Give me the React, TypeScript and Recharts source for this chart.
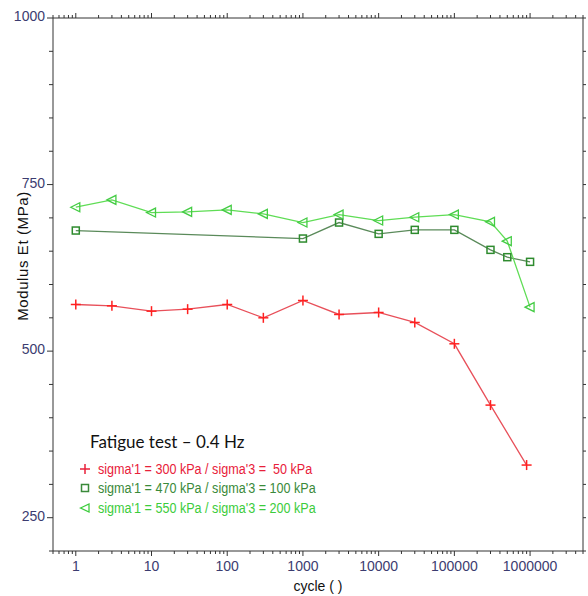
import React from 'react';
import { LineChart, Line, XAxis, YAxis } from 'recharts';

// cycles (x) and modulus Et in MPa (y)
const redCycles = [1, 3, 10, 30, 100, 300, 1000, 3000, 10000, 30000, 100000, 300000, 900000];
const redModulus = [570, 568, 560, 563, 570, 550, 576, 555, 558, 543, 511, 419, 329];

const darkCycles = [1, 1000, 3000, 10000, 30000, 100000, 300000, 500000, 1000000];
const darkModulus = [681, 669, 693, 676, 682, 682, 652, 641, 634];

const lightCycles = [1, 3, 10, 30, 100, 300, 1000, 3000, 10000, 30000, 100000, 300000, 500000, 1000000];
const lightModulus = [716, 727, 708, 709, 712, 706, 693, 705, 696, 701, 705, 694, 665, 566];

const majorX = [1, 10, 100, 1000, 10000, 100000, 1000000];
const yTicks = [200, 250, 300, 350, 400, 450, 500, 550, 600, 650, 700, 750, 800, 850, 900, 950, 1000];
const yLabels = [250, 500, 750, 1000];

const legendItems = [
  { label: "sigma'1 = 300 kPa / sigma'3 =  50 kPa", color: '#e8203a', marker: 'plus' },
  { label: "sigma'1 = 470 kPa / sigma'3 = 100 kPa", color: '#3a8a3a', marker: 'square' },
  { label: "sigma'1 = 550 kPa / sigma'3 = 200 kPa", color: '#3ccc3c', marker: 'triangle' },
];

const zip = (xs: number[], ys: number[]) => xs.map((x, i) => ({ x, y: ys[i] }));
const redData = zip(redCycles, redModulus);
const darkData = zip(darkCycles, darkModulus);
const lightData = zip(lightCycles, lightModulus);

// all x ticks: majors plus 2..9 in each decade
const xTicks: number[] = [];
for (let d = -1; d <= 6; d++) {
  for (let m = 1; m <= 9; m++) {
    const v = m * Math.pow(10, d);
    if (v >= 0.5 && v <= 5000000) xTicks.push(Number(v.toPrecision(3)));
  }
}
const isMajor = (v: number) => majorX.includes(v);

const AXIS = '#333';
const TICK_TEXT = '#3c3c70';
const FONT = "'Liberation Sans', Arial, sans-serif";

const BottomTick = (props: any) => {
  const { x, y, payload } = props;
  const major = isMajor(payload.value);
  return (
    <g>
      <line x1={x} x2={x} y1={y} y2={y + (major ? 5 : 3)} stroke={AXIS} strokeWidth={1} />
      {major && (
        <text x={x} y={y + 20} textAnchor="middle" fontSize={14} fontFamily={FONT} fill={TICK_TEXT}>
          {payload.value}
        </text>
      )}
    </g>
  );
};

const TopTick = (props: any) => {
  const { x, y, payload } = props;
  const major = isMajor(payload.value);
  return <line x1={x} x2={x} y1={y} y2={y - (major ? 5 : 3)} stroke={AXIS} strokeWidth={1} />;
};

const LeftTick = (props: any) => {
  const { x, y, payload } = props;
  const major = yLabels.includes(payload.value);
  return (
    <g>
      <line x1={x} x2={x - (major ? 6 : 4)} y1={y} y2={y} stroke={AXIS} strokeWidth={1} />
      {major && (
        <text x={x - 8} y={y + 3} textAnchor="end" fontSize={14} fontFamily={FONT} fill={TICK_TEXT}>
          {payload.value}
        </text>
      )}
    </g>
  );
};

const RightTick = (props: any) => {
  const { x, y } = props;
  return <line x1={x} x2={x + 3} y1={y} y2={y} stroke={AXIS} strokeWidth={1} />;
};

const PlusDot = (props: any) => {
  const { cx, cy } = props;
  if (cx == null || cy == null) return null;
  return (
    <g stroke="#ff2020" strokeWidth={1.5}>
      <line x1={cx - 5} x2={cx + 5} y1={cy} y2={cy} />
      <line x1={cx} x2={cx} y1={cy - 5} y2={cy + 5} />
    </g>
  );
};

const SquareDot = (props: any) => {
  const { cx, cy } = props;
  if (cx == null || cy == null) return null;
  return <rect x={cx - 3.5} y={cy - 3.5} width={7} height={7} fill="none" stroke="#2e8b2e" strokeWidth={1.5} />;
};

const TriangleDot = (props: any) => {
  const { cx, cy } = props;
  if (cx == null || cy == null) return null;
  return (
    <polygon
      points={`${cx - 5},${cy} ${cx + 4},${cy - 4.5} ${cx + 4},${cy + 4.5}`}
      fill="none"
      stroke="#44cc44"
      strokeWidth={1.3}
    />
  );
};

const LegendMarker = ({ type, color }: { type: string; color: string }) => {
  if (type === 'plus') {
    return (
      <svg width={12} height={12}>
        <g stroke={color} strokeWidth={1.5}>
          <line x1={1} x2={11} y1={6} y2={6} />
          <line x1={6} x2={6} y1={1} y2={11} />
        </g>
      </svg>
    );
  }
  if (type === 'square') {
    return (
      <svg width={12} height={12}>
        <rect x={2.5} y={2.5} width={7} height={7} fill="none" stroke={color} strokeWidth={1.5} />
      </svg>
    );
  }
  return (
    <svg width={12} height={12}>
      <polygon points="1.5,6 10,2 10,10" fill="none" stroke={color} strokeWidth={1.3} />
    </svg>
  );
};

export default function App() {
  return (
    <div style={{ position: 'absolute', left: 0, top: 0, width: 588, height: 596, background: '#fff' }}>
      <LineChart width={588} height={596} margin={{ top: 17, right: 4, bottom: 44, left: 0 }}>
        <XAxis
          dataKey="x"
          type="number"
          scale="log"
          domain={[0.5, 5000000]}
          allowDataOverflow
          ticks={xTicks}
          interval={0}
          tickSize={0}
          tickMargin={0}
          tickLine={false}
          tick={<BottomTick />}
          stroke={AXIS}
          height={1}
        />
        <XAxis
          xAxisId="top"
          orientation="top"
          dataKey="x"
          type="number"
          scale="log"
          domain={[0.5, 5000000]}
          allowDataOverflow
          ticks={xTicks}
          interval={0}
          tickSize={0}
          tickMargin={0}
          tickLine={false}
          tick={<TopTick />}
          stroke={AXIS}
          height={1}
        />
        <YAxis
          type="number"
          domain={[200, 1000]}
          allowDataOverflow
          ticks={yTicks}
          interval={0}
          tickSize={0}
          tickMargin={0}
          tickLine={false}
          tick={<LeftTick />}
          stroke={AXIS}
          width={53}
        />
        <YAxis
          yAxisId="right"
          orientation="right"
          type="number"
          domain={[200, 1000]}
          allowDataOverflow
          ticks={yTicks}
          interval={0}
          tickSize={0}
          tickMargin={0}
          tickLine={false}
          tick={<RightTick />}
          stroke={AXIS}
          width={1}
        />
        <Line
          data={redData}
          dataKey="y"
          stroke="#e8505a"
          strokeWidth={1.3}
          dot={<PlusDot />}
          activeDot={false}
          isAnimationActive={false}
        />
        <Line
          data={darkData}
          dataKey="y"
          stroke="#5a8a5a"
          strokeWidth={1.3}
          dot={<SquareDot />}
          activeDot={false}
          isAnimationActive={false}
        />
        <Line
          data={lightData}
          dataKey="y"
          stroke="#5fdd55"
          strokeWidth={1.3}
          dot={<TriangleDot />}
          activeDot={false}
          isAnimationActive={false}
        />
      </LineChart>

      <div
        style={{
          position: 'absolute',
          left: 22,
          top: 256,
          transform: 'translate(-50%, -50%) rotate(-90deg)',
          fontFamily: FONT,
          fontSize: 15,
          letterSpacing: 0.6,
          color: '#111',
          whiteSpace: 'nowrap',
        }}
      >
        Modulus Et (MPa)
      </div>
      <div
        style={{
          position: 'absolute',
          left: 318,
          top: 586,
          transform: 'translate(-50%, -50%)',
          fontFamily: FONT,
          fontSize: 14,
          color: '#111',
          whiteSpace: 'nowrap',
        }}
      >
        cycle ( )
      </div>

      <div style={{ position: 'absolute', left: 90, top: 431, fontFamily: 'Lato, sans-serif', fontSize: 17, color: '#111', whiteSpace: 'nowrap' }}>
        Fatigue test – 0.4 Hz
      </div>
      <div style={{ position: 'absolute', left: 79, top: 459 }}>
        {legendItems.map((item) => (
          <div key={item.label} style={{ display: 'flex', alignItems: 'center', height: 19.5 }}>
            <LegendMarker type={item.marker} color={item.color} />
            <span
              style={{
                marginLeft: 7,
                display: 'inline-block',
                transform: 'scaleX(0.9)',
                transformOrigin: 'left center',
                fontFamily: FONT,
                fontSize: 14,
                color: item.color,
                whiteSpace: 'pre',
              }}
            >
              {item.label}
            </span>
          </div>
        ))}
      </div>
    </div>
  );
}
